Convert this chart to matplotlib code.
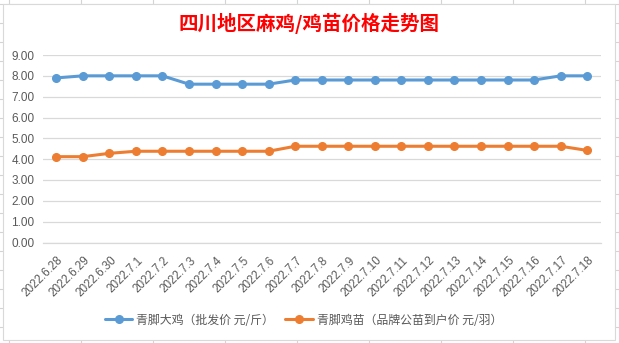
import matplotlib
matplotlib.use("Agg")
import matplotlib.pyplot as plt
import matplotlib.transforms as mtransforms
from matplotlib.lines import Line2D
from matplotlib.patches import Rectangle

# 数据
dates = ['2022.6.28', '2022.6.29', '2022.6.30', '2022.7.1', '2022.7.2', '2022.7.3',
         '2022.7.4', '2022.7.5', '2022.7.6', '2022.7.7', '2022.7.8', '2022.7.9',
         '2022.7.10', '2022.7.11', '2022.7.12', '2022.7.13', '2022.7.14', '2022.7.15',
         '2022.7.16', '2022.7.17', '2022.7.18']
big_chicken = [7.9, 8.0, 8.0, 8.0, 8.0, 7.6, 7.6, 7.6, 7.6, 7.8, 7.8, 7.8,
               7.8, 7.8, 7.8, 7.8, 7.8, 7.8, 7.8, 8.0, 8.0]
chick = [4.12, 4.12, 4.28, 4.38, 4.38, 4.38, 4.38, 4.38, 4.38, 4.62, 4.62, 4.62,
         4.62, 4.62, 4.62, 4.62, 4.62, 4.62, 4.62, 4.62, 4.42]
y_ticks = [0, 1, 2, 3, 4, 5, 6, 7, 8, 9]
series_names = ['青脚大鸡（批发价 元/斤）', '青脚鸡苗（品牌公苗到户价 元/羽）']
title = '四川地区麻鸡/鸡苗价格走势图'

W, H = 619, 343
fig = plt.figure(figsize=(W / 100, H / 100), dpi=100)
fig.patch.set_facecolor('white')

def px(x, y):
    return x / W, 1 - y / H

# 表格背景网格线
cell_color = '#d4d4d4'
for ry in range(4, H, 19):
    fig.add_artist(Line2D([0, 1], [1 - ry / H] * 2, color=cell_color, lw=0.8, zorder=-3))
for cx in [9, 81, 153, 225, 297, 369, 441, 513, 585]:
    fig.add_artist(Line2D([cx / W] * 2, [0, 1], color=cell_color, lw=0.8, zorder=-3))

# 图表区域
x0, y0 = px(3, 340)
x1, y1 = px(615, 4)
fig.add_artist(Rectangle((x0, y0), x1 - x0, y1 - y0, transform=fig.transFigure,
                         facecolor='white', edgecolor='#d9d9d9', lw=0.8, zorder=-2))

left, top = px(43, 55)
right, bottom = px(600.5, 242.5)
ax = fig.add_axes([left, bottom, right - left, top - bottom])
ax.set_facecolor('none')

xs = list(range(len(dates)))
ax.plot(xs, big_chicken, color='#5B9BD5', lw=2.2, marker='o', markersize=5.5,
        label=series_names[0], solid_capstyle='round', zorder=3)
ax.plot(xs, chick, color='#ED7D31', lw=2.2, marker='o', markersize=5.5,
        label=series_names[1], solid_capstyle='round', zorder=3)

ax.set_xlim(-0.5, len(dates) - 0.5)
ax.set_ylim(0, 9)
ax.set_yticks(y_ticks)
ax.set_yticklabels([f'{v:.2f}' for v in y_ticks], fontfamily='Liberation Sans',
                   fontsize=8.5, color='#595959')
ax.grid(axis='y', color='#d9d9d9', lw=0.9)
ax.set_axisbelow(True)
for s in ['top', 'right', 'left']:
    ax.spines[s].set_visible(False)
ax.spines['bottom'].set_color('#d9d9d9')
ax.spines['bottom'].set_linewidth(0.9)
ax.tick_params(axis='y', length=0, pad=6)
ax.tick_params(axis='x', length=0, pad=11.5)

ax.set_xticks(xs)
ax.set_xticklabels(dates, rotation=45, ha='right', va='center', rotation_mode='anchor',
                   fontfamily='Liberation Sans', fontsize=8.4, color='#595959')
shift = mtransforms.ScaledTranslation(5 / 100, 0, fig.dpi_scale_trans)
for lab in ax.get_xticklabels():
    lab.set_transform(lab.get_transform() + shift)

tx, ty = px(309, 23)
fig.text(tx, ty, title, ha='center', va='center', color='#FF0000', fontsize=14,
         fontweight='bold', family=['Noto Sans CJK SC', 'DejaVu Sans'])

lx, ly = px(303.5, 320)
leg = fig.legend(loc='center', bbox_to_anchor=(lx, ly), ncol=2, frameon=False,
                 prop={'family': ['Noto Sans CJK SC', 'DejaVu Sans'], 'size': 8.6},
                 handlelength=2.3, handletextpad=0.35, columnspacing=0.9,
                 borderpad=0, borderaxespad=0)
for t in leg.get_texts():
    t.set_color('#595959')

fig.savefig('out.png', dpi=100, facecolor='white')
